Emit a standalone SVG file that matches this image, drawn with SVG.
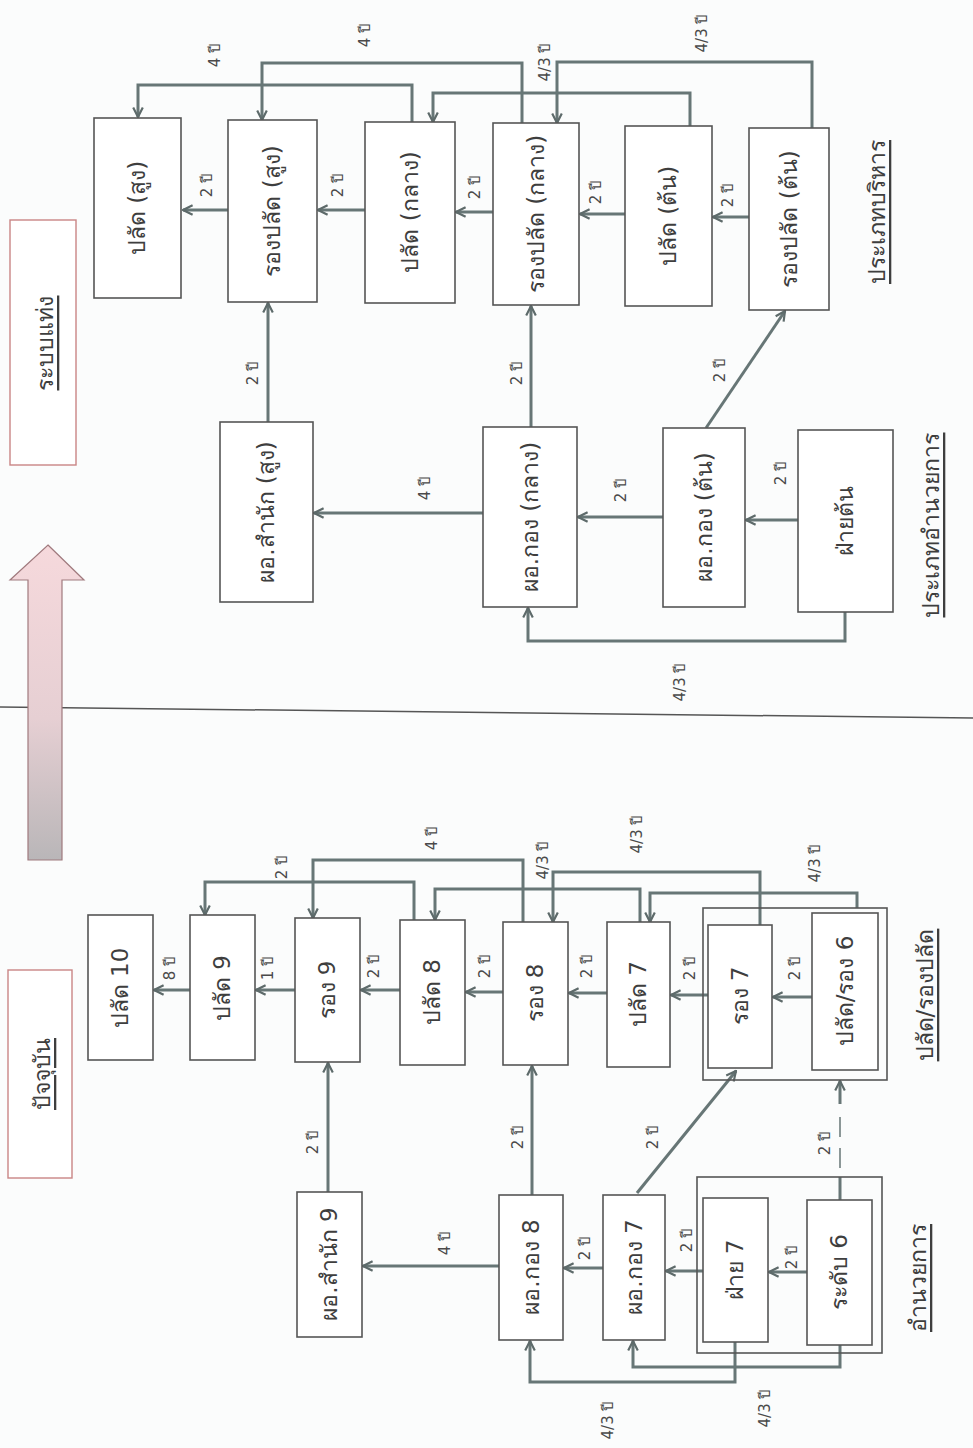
<svg xmlns="http://www.w3.org/2000/svg" width="973" height="1448" viewBox="0 0 973 1448">
<defs>
<style>
.bx{fill:#fff;stroke:#555;stroke-width:1.6}
.grp{fill:none;stroke:#555;stroke-width:1.6}
.rb{fill:#fff;stroke:#c98585;stroke-width:1.4}
.t{font-family:"DejaVu Sans","Noto Sans",sans-serif;font-size:23px;fill:#3e3e3e;text-anchor:middle;dominant-baseline:central}
.s{font-family:"DejaVu Sans","Noto Sans",sans-serif;font-size:15px;fill:#4a4a4a;text-anchor:middle;dominant-baseline:central}
.h{font-family:"DejaVu Sans","Noto Sans",sans-serif;font-size:23px;fill:#3e3e3e;text-anchor:middle;dominant-baseline:central;text-decoration:underline}
.c{fill:none;stroke:#677676;stroke-width:3}
.d{fill:none;stroke:#677676;stroke-width:1.5}
</style>
<marker id="ah" viewBox="0 0 10 10" refX="9" refY="5" markerWidth="12" markerHeight="12" orient="auto" markerUnits="userSpaceOnUse">
<path d="M1,1 L9,5 L1,9" fill="none" stroke="#5d6a6a" stroke-width="1.8"/>
</marker>
<linearGradient id="ag" x1="0" y1="0" x2="0" y2="1">
<stop offset="0" stop-color="#f6d9dc"/>
<stop offset="0.55" stop-color="#e6cfd3"/>
<stop offset="1" stop-color="#b9b6b8"/>
</linearGradient>
</defs>
<rect width="973" height="1448" fill="#fbfcfc"/>

<!-- divider and big arrow -->
<line x1="0" y1="707" x2="973" y2="718" stroke="#555" stroke-width="1.5"/>
<polygon points="48,545 84,580 62,580 62,860 28,860 28,580 10,580" fill="url(#ag)" stroke="#a07a7e" stroke-width="1.2"/>

<!-- section title boxes -->
<g id="title-new">
<rect class="rb" x="10" y="220" width="66" height="245"/>
<text class="h" x="45" y="343" transform="rotate(-90 45 343)">ระบบแท่ง</text>
</g>
<g id="title-current">
<rect class="rb" x="8" y="970" width="64" height="208"/>
<text class="h" x="42" y="1074" transform="rotate(-90 42 1074)">ปัจจุบัน</text>
</g>
<g id="lbl-exec"><text class="h" x="877" y="212" transform="rotate(-90 877 212)">ประเภทบริหาร</text></g>
<g id="lbl-dir"><text class="h" x="931" y="525" transform="rotate(-90 931 525)">ประเภทอำนวยการ</text></g>
<g id="lbl-palat"><text class="h" x="925" y="995" transform="rotate(-90 925 995)">ปลัด/รองปลัด</text></g>
<g id="lbl-amnuay"><text class="h" x="918" y="1278" transform="rotate(-90 918 1278)">อำนวยการ</text></g>

<!-- connectors -->
<g id="connectors">
<path class="c" marker-end="url(#ah)" d="M228,210 H183"/>
<path class="c" marker-end="url(#ah)" d="M365,210 H318"/>
<path class="c" marker-end="url(#ah)" d="M493,212 H456"/>
<path class="c" marker-end="url(#ah)" d="M625,214 H580"/>
<path class="c" marker-end="url(#ah)" d="M749,217 H713"/>
<path class="c" marker-end="url(#ah)" d="M412,122 V85 H138 V117"/>
<path class="c" marker-end="url(#ah)" d="M522,123 V63 H262 V120"/>
<path class="c" marker-end="url(#ah)" d="M690,126 V93 H433 V122"/>
<path class="c" marker-end="url(#ah)" d="M812,128 V62 H557 V123"/>
<path class="c" marker-end="url(#ah)" d="M268,422 V303"/>
<path class="c" marker-end="url(#ah)" d="M531,427 V306"/>
<path class="c" marker-end="url(#ah)" d="M706,428 L785,311"/>
<path class="c" marker-end="url(#ah)" d="M483,513 H314"/>
<path class="c" marker-end="url(#ah)" d="M663,517 H578"/>
<path class="c" marker-end="url(#ah)" d="M798,520 H746"/>
<path class="c" marker-end="url(#ah)" d="M845,612 V641 H528 V608"/>

<path class="c" marker-end="url(#ah)" d="M190,990 H154"/>
<path class="c" marker-end="url(#ah)" d="M295,990 H256"/>
<path class="c" marker-end="url(#ah)" d="M400,990 H361"/>
<path class="c" marker-end="url(#ah)" d="M503,992 H466"/>
<path class="c" marker-end="url(#ah)" d="M607,993 H569"/>
<path class="c" marker-end="url(#ah)" d="M708,995 H671"/>
<path class="c" marker-end="url(#ah)" d="M812,997 H773"/>
<path class="c" marker-end="url(#ah)" d="M414,920 V882 H205 V915"/>
<path class="c" marker-end="url(#ah)" d="M523,922 V860 H313 V918"/>
<path class="c" marker-end="url(#ah)" d="M640,922 V889 H435 V920"/>
<path class="c" marker-end="url(#ah)" d="M760,925 V872 H553 V922"/>
<path class="c" marker-end="url(#ah)" d="M857,908 V893 H650 V922"/>
<path class="c" marker-end="url(#ah)" d="M328,1192 V1063"/>
<path class="c" marker-end="url(#ah)" d="M532,1195 V1066"/>
<path class="c" marker-end="url(#ah)" d="M637,1193 L736,1071"/>
<path class="c" d="M840,1200 V1177"/>
<path class="d" d="M840,1168 V1148 M840,1137 V1117"/>
<path class="c" marker-end="url(#ah)" d="M840,1104 V1081"/>
<path class="c" marker-end="url(#ah)" d="M499,1266 H363"/>
<path class="c" marker-end="url(#ah)" d="M603,1268 H564"/>
<path class="c" marker-end="url(#ah)" d="M703,1271 H666"/>
<path class="c" marker-end="url(#ah)" d="M807,1272 H769"/>
<path class="c" marker-end="url(#ah)" d="M735,1342 V1382 H530 V1341"/>
<path class="c" marker-end="url(#ah)" d="M840,1345 V1367 H633 V1341"/>
</g>

<!-- connector labels -->
<g id="labels">
<text class="s" x="207" y="185" transform="rotate(-90 207 185)">2 ปี</text>
<text class="s" x="338" y="185" transform="rotate(-90 338 185)">2 ปี</text>
<text class="s" x="475" y="187" transform="rotate(-90 475 187)">2 ปี</text>
<text class="s" x="596" y="192" transform="rotate(-90 596 192)">2 ปี</text>
<text class="s" x="728" y="195" transform="rotate(-90 728 195)">2 ปี</text>
<text class="s" x="215" y="55" transform="rotate(-90 215 55)">4 ปี</text>
<text class="s" x="365" y="35" transform="rotate(-90 365 35)">4 ปี</text>
<text class="s" x="545" y="62" transform="rotate(-90 545 62)">4/3 ปี</text>
<text class="s" x="702" y="33" transform="rotate(-90 702 33)">4/3 ปี</text>
<text class="s" x="253" y="373" transform="rotate(-90 253 373)">2 ปี</text>
<text class="s" x="517" y="373" transform="rotate(-90 517 373)">2 ปี</text>
<text class="s" x="720" y="370" transform="rotate(-90 720 370)">2 ปี</text>
<text class="s" x="425" y="488" transform="rotate(-90 425 488)">4 ปี</text>
<text class="s" x="621" y="490" transform="rotate(-90 621 490)">2 ปี</text>
<text class="s" x="781" y="473" transform="rotate(-90 781 473)">2 ปี</text>
<text class="s" x="680" y="682" transform="rotate(-90 680 682)">4/3 ปี</text>

<text class="s" x="170" y="968" transform="rotate(-90 170 968)">8 ปี</text>
<text class="s" x="268" y="968" transform="rotate(-90 268 968)">1 ปี</text>
<text class="s" x="374" y="966" transform="rotate(-90 374 966)">2 ปี</text>
<text class="s" x="485" y="966" transform="rotate(-90 485 966)">2 ปี</text>
<text class="s" x="587" y="966" transform="rotate(-90 587 966)">2 ปี</text>
<text class="s" x="690" y="968" transform="rotate(-90 690 968)">2 ปี</text>
<text class="s" x="795" y="968" transform="rotate(-90 795 968)">2 ปี</text>
<text class="s" x="282" y="867" transform="rotate(-90 282 867)">2 ปี</text>
<text class="s" x="432" y="838" transform="rotate(-90 432 838)">4 ปี</text>
<text class="s" x="543" y="860" transform="rotate(-90 543 860)">4/3 ปี</text>
<text class="s" x="637" y="834" transform="rotate(-90 637 834)">4/3 ปี</text>
<text class="s" x="815" y="863" transform="rotate(-90 815 863)">4/3 ปี</text>
<text class="s" x="313" y="1142" transform="rotate(-90 313 1142)">2 ปี</text>
<text class="s" x="518" y="1137" transform="rotate(-90 518 1137)">2 ปี</text>
<text class="s" x="653" y="1137" transform="rotate(-90 653 1137)">2 ปี</text>
<text class="s" x="825" y="1143" transform="rotate(-90 825 1143)">2 ปี</text>
<text class="s" x="445" y="1243" transform="rotate(-90 445 1243)">4 ปี</text>
<text class="s" x="585" y="1248" transform="rotate(-90 585 1248)">2 ปี</text>
<text class="s" x="687" y="1240" transform="rotate(-90 687 1240)">2 ปี</text>
<text class="s" x="792" y="1257" transform="rotate(-90 792 1257)">2 ปี</text>
<text class="s" x="608" y="1420" transform="rotate(-90 608 1420)">4/3 ปี</text>
<text class="s" x="765" y="1408" transform="rotate(-90 765 1408)">4/3 ปี</text>
</g>

<!-- top half nodes -->
<g id="n-palat-high"><rect class="bx" x="94" y="118" width="87" height="180"/><text class="t" x="137" y="208" transform="rotate(-90 137 208)">ปลัด (สูง)</text></g>
<g id="n-rongpalat-high"><rect class="bx" x="228" y="120" width="89" height="182"/><text class="t" x="272" y="211" transform="rotate(-90 272 211)">รองปลัด (สูง)</text></g>
<g id="n-palat-mid"><rect class="bx" x="365" y="122" width="90" height="181"/><text class="t" x="410" y="212" transform="rotate(-90 410 212)">ปลัด (กลาง)</text></g>
<g id="n-rongpalat-mid"><rect class="bx" x="493" y="123" width="86" height="182"/><text class="t" x="536" y="214" transform="rotate(-90 536 214)">รองปลัด (กลาง)</text></g>
<g id="n-palat-low"><rect class="bx" x="625" y="126" width="87" height="180"/><text class="t" x="668" y="216" transform="rotate(-90 668 216)">ปลัด (ต้น)</text></g>
<g id="n-rongpalat-low"><rect class="bx" x="749" y="128" width="80" height="182"/><text class="t" x="789" y="219" transform="rotate(-90 789 219)">รองปลัด (ต้น)</text></g>
<g id="n-dir-office-high"><rect class="bx" x="220" y="422" width="93" height="180"/><text class="t" x="266" y="512" transform="rotate(-90 266 512)">ผอ.สำนัก (สูง)</text></g>
<g id="n-dir-div-mid"><rect class="bx" x="483" y="427" width="94" height="180"/><text class="t" x="530" y="517" transform="rotate(-90 530 517)">ผอ.กอง (กลาง)</text></g>
<g id="n-dir-div-low"><rect class="bx" x="663" y="428" width="82" height="179"/><text class="t" x="704" y="517" transform="rotate(-90 704 517)">ผอ.กอง (ต้น)</text></g>
<g id="n-fai-low"><rect class="bx" x="798" y="430" width="95" height="182"/><text class="t" x="845" y="521" transform="rotate(-90 845 521)">ฝ่ายต้น</text></g>

<!-- bottom half nodes -->
<g id="grp-palat6"><rect class="grp" x="703" y="908" width="184" height="172"/></g>
<g id="grp-amnuay"><rect class="grp" x="697" y="1177" width="185" height="176"/></g>
<g id="n-palat10"><rect class="bx" x="88" y="915" width="65" height="145"/><text class="t" x="120" y="988" transform="rotate(-90 120 988)">ปลัด 10</text></g>
<g id="n-palat9"><rect class="bx" x="190" y="915" width="65" height="145"/><text class="t" x="222" y="988" transform="rotate(-90 222 988)">ปลัด 9</text></g>
<g id="n-rong9"><rect class="bx" x="295" y="918" width="65" height="144"/><text class="t" x="327" y="990" transform="rotate(-90 327 990)">รอง 9</text></g>
<g id="n-palat8"><rect class="bx" x="400" y="920" width="65" height="145"/><text class="t" x="432" y="992" transform="rotate(-90 432 992)">ปลัด 8</text></g>
<g id="n-rong8"><rect class="bx" x="503" y="922" width="65" height="143"/><text class="t" x="535" y="993" transform="rotate(-90 535 993)">รอง 8</text></g>
<g id="n-palat7"><rect class="bx" x="607" y="922" width="63" height="145"/><text class="t" x="638" y="994" transform="rotate(-90 638 994)">ปลัด 7</text></g>
<g id="n-rong7"><rect class="bx" x="708" y="925" width="64" height="143"/><text class="t" x="740" y="996" transform="rotate(-90 740 996)">รอง 7</text></g>
<g id="n-palatrong6"><rect class="bx" x="812" y="913" width="66" height="157"/><text class="t" x="845" y="991" transform="rotate(-90 845 991)">ปลัด/รอง 6</text></g>
<g id="n-dir-office9"><rect class="bx" x="297" y="1192" width="65" height="145"/><text class="t" x="329" y="1264" transform="rotate(-90 329 1264)">ผอ.สำนัก 9</text></g>
<g id="n-dir-div8"><rect class="bx" x="499" y="1195" width="64" height="145"/><text class="t" x="531" y="1267" transform="rotate(-90 531 1267)">ผอ.กอง 8</text></g>
<g id="n-dir-div7"><rect class="bx" x="603" y="1195" width="62" height="145"/><text class="t" x="634" y="1267" transform="rotate(-90 634 1267)">ผอ.กอง 7</text></g>
<g id="n-fai7"><rect class="bx" x="703" y="1198" width="65" height="144"/><text class="t" x="735" y="1270" transform="rotate(-90 735 1270)">ฝ่าย 7</text></g>
<g id="n-level6"><rect class="bx" x="807" y="1200" width="65" height="145"/><text class="t" x="839" y="1272" transform="rotate(-90 839 1272)">ระดับ 6</text></g>
</svg>
